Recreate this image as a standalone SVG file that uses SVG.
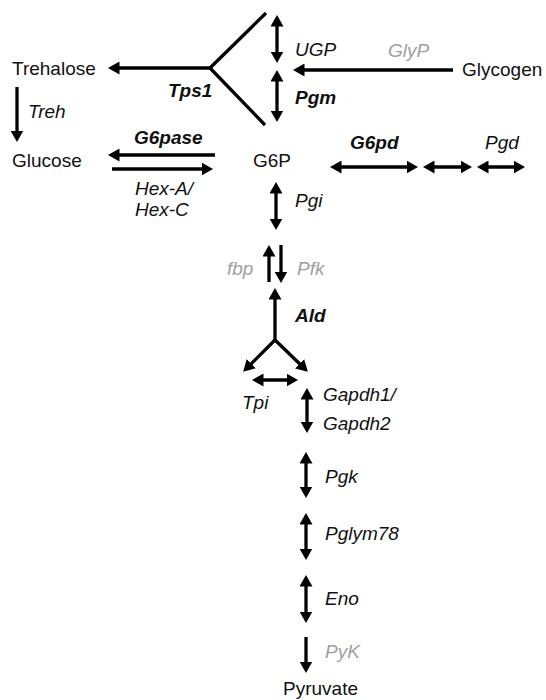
<svg xmlns="http://www.w3.org/2000/svg" width="546" height="700" viewBox="0 0 546 700">
<style>
text{font-family:"Liberation Sans",Arial,sans-serif;font-size:19px;fill:#111}
.e{font-style:italic}
.b{font-weight:bold}
.g{fill:#a0a0a0}
.c line,.c path{stroke:#000;stroke-width:3.3;fill:none}
.a1{marker-end:url(#ah)}
.a2{marker-start:url(#ah);marker-end:url(#ah)}
</style>
<defs>
<marker id="ah" markerUnits="userSpaceOnUse" markerWidth="13" markerHeight="13" refX="7.5" refY="6.5" orient="auto-start-reverse">
<path d="M0,0 L11.5,6.5 L0,13 z" fill="#000"/>
</marker>
</defs>
<rect width="546" height="700" fill="#fff"/>
<g id="connectors" class="c">
<line x1="210" y1="68" x2="266" y2="13"/>
<line x1="210" y1="68" x2="265" y2="125"/>
<line class="a1" x1="210" y1="68" x2="112" y2="68"/>
<line class="a2" x1="277" y1="19" x2="277" y2="59"/>
<line class="a2" x1="277" y1="74" x2="277" y2="118"/>
<line class="a1" x1="453" y1="70" x2="297" y2="70"/>
<line class="a1" x1="17" y1="87" x2="17" y2="138"/>
<line class="a1" x1="215" y1="155" x2="112" y2="155"/>
<line class="a1" x1="112" y1="169" x2="209" y2="169"/>
<line class="a2" x1="334" y1="167" x2="414" y2="167"/>
<line class="a2" x1="427" y1="167" x2="468" y2="167"/>
<line class="a2" x1="481" y1="167" x2="521" y2="167"/>
<line class="a2" x1="276" y1="186" x2="276" y2="226"/>
<line class="a1" x1="269" y1="282" x2="269" y2="249"/>
<line class="a1" x1="281" y1="245" x2="281" y2="279"/>
<line class="a1" x1="275" y1="341" x2="275" y2="292"/>
<line class="a1" x1="275" y1="340" x2="246" y2="369"/>
<line class="a1" x1="275" y1="340" x2="305" y2="369"/>
<line class="a2" x1="256" y1="380" x2="294" y2="380"/>
<line class="a2" x1="307" y1="392" x2="307" y2="429"/>
<line class="a2" x1="306" y1="456" x2="306" y2="494"/>
<line class="a2" x1="306" y1="517" x2="306" y2="556"/>
<line class="a2" x1="306" y1="579" x2="306" y2="619"/>
<line class="a1" x1="306" y1="637" x2="306" y2="669"/>
</g>
<g id="Trehalose"><text x="12" y="75">Trehalose</text></g>
<g id="Glucose"><text x="12" y="167">Glucose</text></g>
<g id="G6P"><text x="253" y="167">G6P</text></g>
<g id="Glycogen"><text x="462" y="76">Glycogen</text></g>
<g id="Pyruvate"><text x="283" y="695">Pyruvate</text></g>
<g id="labels">
<text class="e b" x="168" y="97">Tps1</text>
<text class="e" x="295" y="56">UGP</text>
<text class="e b" x="295" y="104">Pgm</text>
<text class="e g" x="388" y="57">GlyP</text>
<text class="e" x="28" y="118">Treh</text>
<text class="e b" x="134" y="144">G6pase</text>
<text class="e" x="135" y="195">Hex-A/</text>
<text class="e" x="135" y="216">Hex-C</text>
<text class="e b" x="350" y="149">G6pd</text>
<text class="e" x="485" y="149">Pgd</text>
<text class="e" x="295" y="207">Pgi</text>
<text class="e g" x="227" y="275">fbp</text>
<text class="e g" x="297" y="275">Pfk</text>
<text class="e b" x="295" y="322">Ald</text>
<text class="e" x="242" y="409">Tpi</text>
<text class="e" x="323" y="401">Gapdh1/</text>
<text class="e" x="323" y="430">Gapdh2</text>
<text class="e" x="325" y="483">Pgk</text>
<text class="e" x="325" y="540">Pglym78</text>
<text class="e" x="325" y="605">Eno</text>
<text class="e g" x="325" y="658">PyK</text>
</g>
</svg>
